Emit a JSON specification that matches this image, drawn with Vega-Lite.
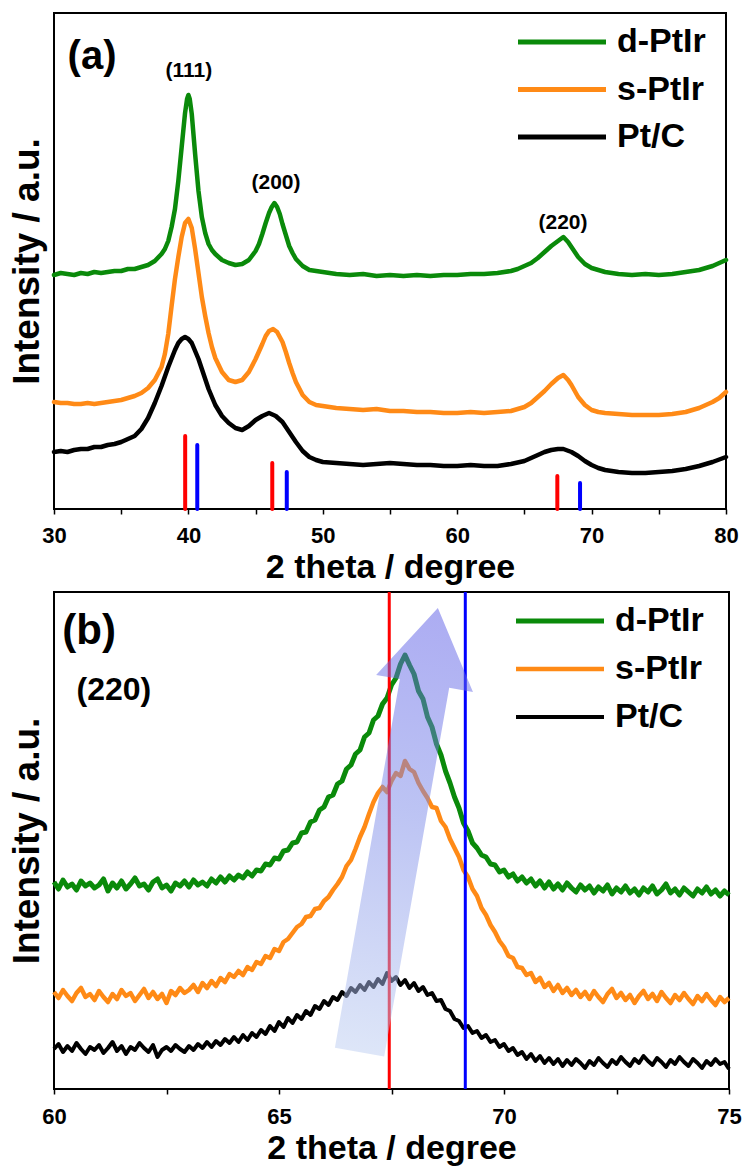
{
"$schema": "https://vega.github.io/schema/vega-lite/v6.json",
"background": "white",
"padding": {"left": 7, "top": 12, "right": 2, "bottom": 0},
"spacing": 4,
"config": {
  "font": "Liberation Sans",
  "view": {"stroke": "#000", "strokeWidth": 2},
  "axis": {"grid": false, "domain": false, "tickColor": "#000", "tickWidth": 1.5, "tickSize": 5, "labelFlush": false,
           "labelFont": "Liberation Sans", "labelFontWeight": "bold", "labelFontSize": 22, "labelColor": "#000", "labelOverlap": false,
           "titleFont": "Liberation Sans", "titleFontWeight": "bold", "titleColor": "#000"}
},
"resolve": {"scale": {"color": "independent", "strokeWidth": "independent", "x": "independent", "y": "independent"}, "legend": {"color": "independent"}},
"datasets": {
  "sticks": [
    {"m": "Pt", "x": 39.76, "h": 73}, {"m": "Ir", "x": 40.66, "h": 64},
    {"m": "Pt", "x": 46.24, "h": 46}, {"m": "Ir", "x": 47.32, "h": 37},
    {"m": "Pt", "x": 67.45, "h": 33}, {"m": "Ir", "x": 69.14, "h": 26}
  ],
  "ann": [
    {"p": "a", "k": "big", "t": "(a)", "x": 32.83, "y": 452},
    {"p": "a", "k": "small", "t": "(111)", "x": 40.04, "y": 438},
    {"p": "a", "k": "small", "t": "(200)", "x": 46.52, "y": 326},
    {"p": "a", "k": "small", "t": "(220)", "x": 67.87, "y": 286},
    {"p": "b", "k": "big", "t": "(b)", "x": 60.78, "y": 458},
    {"p": "b", "k": "small", "t": "(220)", "x": 61.33, "y": 399}
  ],
  "arrow": [{"x": 67.66, "y": 259}],
  "a": [
{"s":"d-PtIr","x":30,"y":234},{"s":"d-PtIr","x":30.5,"y":236},{"s":"d-PtIr","x":31,"y":235},{"s":"d-PtIr","x":31.5,"y":234},{"s":"d-PtIr","x":32,"y":236},{"s":"d-PtIr","x":32.5,"y":235},{"s":"d-PtIr","x":33,"y":237},{"s":"d-PtIr","x":33.5,"y":236},{"s":"d-PtIr","x":34,"y":237},{"s":"d-PtIr","x":34.5,"y":238},{"s":"d-PtIr","x":35,"y":238},{"s":"d-PtIr","x":35.5,"y":240},{"s":"d-PtIr","x":36,"y":240},{"s":"d-PtIr","x":36.5,"y":242},{"s":"d-PtIr","x":37,"y":244},{"s":"d-PtIr","x":37.5,"y":248},{"s":"d-PtIr","x":38,"y":255},{"s":"d-PtIr","x":38.25,"y":260},{"s":"d-PtIr","x":38.5,"y":268},{"s":"d-PtIr","x":38.75,"y":282},{"s":"d-PtIr","x":39,"y":300},{"s":"d-PtIr","x":39.25,"y":328},{"s":"d-PtIr","x":39.5,"y":362},{"s":"d-PtIr","x":39.75,"y":396},{"s":"d-PtIr","x":39.9,"y":410},{"s":"d-PtIr","x":40,"y":414},{"s":"d-PtIr","x":40.1,"y":410},{"s":"d-PtIr","x":40.25,"y":395},{"s":"d-PtIr","x":40.5,"y":355},{"s":"d-PtIr","x":40.75,"y":318},{"s":"d-PtIr","x":41,"y":292},{"s":"d-PtIr","x":41.25,"y":276},{"s":"d-PtIr","x":41.5,"y":265},{"s":"d-PtIr","x":41.75,"y":259},{"s":"d-PtIr","x":42,"y":255},{"s":"d-PtIr","x":42.5,"y":249},{"s":"d-PtIr","x":43,"y":246},{"s":"d-PtIr","x":43.5,"y":244},{"s":"d-PtIr","x":44,"y":245},{"s":"d-PtIr","x":44.5,"y":249},{"s":"d-PtIr","x":45,"y":258},{"s":"d-PtIr","x":45.25,"y":265},{"s":"d-PtIr","x":45.5,"y":275},{"s":"d-PtIr","x":45.75,"y":286},{"s":"d-PtIr","x":46,"y":296},{"s":"d-PtIr","x":46.2,"y":302},{"s":"d-PtIr","x":46.4,"y":306},{"s":"d-PtIr","x":46.6,"y":302},{"s":"d-PtIr","x":46.8,"y":295},{"s":"d-PtIr","x":47,"y":285},{"s":"d-PtIr","x":47.25,"y":274},{"s":"d-PtIr","x":47.5,"y":263},{"s":"d-PtIr","x":47.75,"y":256},{"s":"d-PtIr","x":48,"y":250},{"s":"d-PtIr","x":48.5,"y":243},{"s":"d-PtIr","x":49,"y":239},{"s":"d-PtIr","x":49.5,"y":238},{"s":"d-PtIr","x":50,"y":237},{"s":"d-PtIr","x":51,"y":235},{"s":"d-PtIr","x":52,"y":234},{"s":"d-PtIr","x":53,"y":235},{"s":"d-PtIr","x":54,"y":233},{"s":"d-PtIr","x":55,"y":234},{"s":"d-PtIr","x":56,"y":233},{"s":"d-PtIr","x":57,"y":234},{"s":"d-PtIr","x":58,"y":233},{"s":"d-PtIr","x":59,"y":234},{"s":"d-PtIr","x":60,"y":234},{"s":"d-PtIr","x":61,"y":235},{"s":"d-PtIr","x":62,"y":235},{"s":"d-PtIr","x":63,"y":236},{"s":"d-PtIr","x":64,"y":238},{"s":"d-PtIr","x":64.5,"y":240},{"s":"d-PtIr","x":65,"y":243},{"s":"d-PtIr","x":65.5,"y":246},{"s":"d-PtIr","x":66,"y":251},{"s":"d-PtIr","x":66.5,"y":257},{"s":"d-PtIr","x":67,"y":263},{"s":"d-PtIr","x":67.5,"y":268},{"s":"d-PtIr","x":67.9,"y":272},{"s":"d-PtIr","x":68.25,"y":267},{"s":"d-PtIr","x":68.5,"y":262},{"s":"d-PtIr","x":68.75,"y":257},{"s":"d-PtIr","x":69,"y":252},{"s":"d-PtIr","x":69.5,"y":245},{"s":"d-PtIr","x":70,"y":241},{"s":"d-PtIr","x":70.5,"y":239},{"s":"d-PtIr","x":71,"y":237},{"s":"d-PtIr","x":72,"y":235},{"s":"d-PtIr","x":73,"y":234},{"s":"d-PtIr","x":74,"y":235},{"s":"d-PtIr","x":75,"y":234},{"s":"d-PtIr","x":76,"y":235},{"s":"d-PtIr","x":77,"y":237},{"s":"d-PtIr","x":78,"y":239},{"s":"d-PtIr","x":78.5,"y":241},{"s":"d-PtIr","x":79,"y":243},{"s":"d-PtIr","x":79.5,"y":246},{"s":"d-PtIr","x":80,"y":249},
{"s":"s-PtIr","x":30,"y":107},{"s":"s-PtIr","x":30.5,"y":106},{"s":"s-PtIr","x":31,"y":106},{"s":"s-PtIr","x":31.5,"y":105},{"s":"s-PtIr","x":32,"y":105},{"s":"s-PtIr","x":32.5,"y":106},{"s":"s-PtIr","x":33,"y":105},{"s":"s-PtIr","x":33.5,"y":106},{"s":"s-PtIr","x":34,"y":107},{"s":"s-PtIr","x":34.5,"y":108},{"s":"s-PtIr","x":35,"y":109},{"s":"s-PtIr","x":35.5,"y":111},{"s":"s-PtIr","x":36,"y":113},{"s":"s-PtIr","x":36.5,"y":116},{"s":"s-PtIr","x":37,"y":121},{"s":"s-PtIr","x":37.5,"y":129},{"s":"s-PtIr","x":38,"y":142},{"s":"s-PtIr","x":38.25,"y":155},{"s":"s-PtIr","x":38.5,"y":175},{"s":"s-PtIr","x":38.75,"y":203},{"s":"s-PtIr","x":39,"y":230},{"s":"s-PtIr","x":39.25,"y":252},{"s":"s-PtIr","x":39.5,"y":272},{"s":"s-PtIr","x":39.75,"y":286},{"s":"s-PtIr","x":40,"y":290},{"s":"s-PtIr","x":40.25,"y":281},{"s":"s-PtIr","x":40.5,"y":260},{"s":"s-PtIr","x":40.75,"y":236},{"s":"s-PtIr","x":41,"y":212},{"s":"s-PtIr","x":41.25,"y":193},{"s":"s-PtIr","x":41.5,"y":176},{"s":"s-PtIr","x":41.75,"y":162},{"s":"s-PtIr","x":42,"y":151},{"s":"s-PtIr","x":42.5,"y":137},{"s":"s-PtIr","x":43,"y":129},{"s":"s-PtIr","x":43.5,"y":127},{"s":"s-PtIr","x":44,"y":129},{"s":"s-PtIr","x":44.5,"y":137},{"s":"s-PtIr","x":45,"y":150},{"s":"s-PtIr","x":45.5,"y":165},{"s":"s-PtIr","x":45.75,"y":173},{"s":"s-PtIr","x":46,"y":178},{"s":"s-PtIr","x":46.3,"y":180},{"s":"s-PtIr","x":46.6,"y":177},{"s":"s-PtIr","x":47,"y":167},{"s":"s-PtIr","x":47.25,"y":157},{"s":"s-PtIr","x":47.5,"y":146},{"s":"s-PtIr","x":47.75,"y":136},{"s":"s-PtIr","x":48,"y":127},{"s":"s-PtIr","x":48.5,"y":114},{"s":"s-PtIr","x":49,"y":107},{"s":"s-PtIr","x":49.5,"y":104},{"s":"s-PtIr","x":50,"y":103},{"s":"s-PtIr","x":51,"y":101},{"s":"s-PtIr","x":52,"y":100},{"s":"s-PtIr","x":53,"y":99},{"s":"s-PtIr","x":54,"y":100},{"s":"s-PtIr","x":55,"y":98},{"s":"s-PtIr","x":56,"y":98},{"s":"s-PtIr","x":57,"y":97},{"s":"s-PtIr","x":58,"y":97},{"s":"s-PtIr","x":59,"y":96},{"s":"s-PtIr","x":60,"y":96},{"s":"s-PtIr","x":61,"y":97},{"s":"s-PtIr","x":62,"y":96},{"s":"s-PtIr","x":63,"y":97},{"s":"s-PtIr","x":64,"y":98},{"s":"s-PtIr","x":64.5,"y":100},{"s":"s-PtIr","x":65,"y":102},{"s":"s-PtIr","x":65.5,"y":106},{"s":"s-PtIr","x":66,"y":112},{"s":"s-PtIr","x":66.5,"y":118},{"s":"s-PtIr","x":67,"y":125},{"s":"s-PtIr","x":67.5,"y":131},{"s":"s-PtIr","x":67.9,"y":134},{"s":"s-PtIr","x":68.25,"y":129},{"s":"s-PtIr","x":68.5,"y":124},{"s":"s-PtIr","x":68.75,"y":118},{"s":"s-PtIr","x":69,"y":112},{"s":"s-PtIr","x":69.5,"y":104},{"s":"s-PtIr","x":70,"y":99},{"s":"s-PtIr","x":70.5,"y":97},{"s":"s-PtIr","x":71,"y":96},{"s":"s-PtIr","x":72,"y":95},{"s":"s-PtIr","x":73,"y":94},{"s":"s-PtIr","x":74,"y":94},{"s":"s-PtIr","x":75,"y":94},{"s":"s-PtIr","x":76,"y":95},{"s":"s-PtIr","x":77,"y":97},{"s":"s-PtIr","x":77.5,"y":99},{"s":"s-PtIr","x":78,"y":101},{"s":"s-PtIr","x":78.5,"y":104},{"s":"s-PtIr","x":79,"y":107},{"s":"s-PtIr","x":79.5,"y":111},{"s":"s-PtIr","x":80,"y":117},
{"s":"Pt/C","x":30,"y":57},{"s":"Pt/C","x":30.5,"y":58},{"s":"Pt/C","x":31,"y":57},{"s":"Pt/C","x":31.5,"y":59},{"s":"Pt/C","x":32,"y":60},{"s":"Pt/C","x":32.5,"y":60},{"s":"Pt/C","x":33,"y":62},{"s":"Pt/C","x":33.5,"y":62},{"s":"Pt/C","x":34,"y":64},{"s":"Pt/C","x":34.5,"y":65},{"s":"Pt/C","x":35,"y":67},{"s":"Pt/C","x":35.5,"y":70},{"s":"Pt/C","x":36,"y":73},{"s":"Pt/C","x":36.5,"y":80},{"s":"Pt/C","x":37,"y":91},{"s":"Pt/C","x":37.5,"y":106},{"s":"Pt/C","x":38,"y":123},{"s":"Pt/C","x":38.5,"y":142},{"s":"Pt/C","x":39,"y":159},{"s":"Pt/C","x":39.25,"y":166},{"s":"Pt/C","x":39.5,"y":170},{"s":"Pt/C","x":39.75,"y":172},{"s":"Pt/C","x":40,"y":170},{"s":"Pt/C","x":40.25,"y":166},{"s":"Pt/C","x":40.5,"y":158},{"s":"Pt/C","x":40.75,"y":150},{"s":"Pt/C","x":41,"y":140},{"s":"Pt/C","x":41.5,"y":120},{"s":"Pt/C","x":42,"y":104},{"s":"Pt/C","x":42.5,"y":93},{"s":"Pt/C","x":43,"y":86},{"s":"Pt/C","x":43.5,"y":81},{"s":"Pt/C","x":44,"y":79},{"s":"Pt/C","x":44.5,"y":83},{"s":"Pt/C","x":45,"y":89},{"s":"Pt/C","x":45.5,"y":93},{"s":"Pt/C","x":46,"y":96},{"s":"Pt/C","x":46.5,"y":93},{"s":"Pt/C","x":47,"y":87},{"s":"Pt/C","x":47.5,"y":77},{"s":"Pt/C","x":48,"y":67},{"s":"Pt/C","x":48.5,"y":58},{"s":"Pt/C","x":49,"y":52},{"s":"Pt/C","x":49.5,"y":49},{"s":"Pt/C","x":50,"y":47},{"s":"Pt/C","x":51,"y":46},{"s":"Pt/C","x":52,"y":45},{"s":"Pt/C","x":53,"y":44},{"s":"Pt/C","x":54,"y":45},{"s":"Pt/C","x":55,"y":46},{"s":"Pt/C","x":56,"y":45},{"s":"Pt/C","x":57,"y":44},{"s":"Pt/C","x":58,"y":44},{"s":"Pt/C","x":59,"y":43},{"s":"Pt/C","x":60,"y":43},{"s":"Pt/C","x":61,"y":44},{"s":"Pt/C","x":62,"y":43},{"s":"Pt/C","x":63,"y":43},{"s":"Pt/C","x":64,"y":45},{"s":"Pt/C","x":65,"y":48},{"s":"Pt/C","x":65.5,"y":51},{"s":"Pt/C","x":66,"y":54},{"s":"Pt/C","x":66.5,"y":57},{"s":"Pt/C","x":67,"y":59},{"s":"Pt/C","x":67.5,"y":60},{"s":"Pt/C","x":67.9,"y":60},{"s":"Pt/C","x":68.5,"y":57},{"s":"Pt/C","x":69,"y":53},{"s":"Pt/C","x":69.5,"y":48},{"s":"Pt/C","x":70,"y":44},{"s":"Pt/C","x":70.5,"y":41},{"s":"Pt/C","x":71,"y":39},{"s":"Pt/C","x":72,"y":37},{"s":"Pt/C","x":73,"y":36},{"s":"Pt/C","x":74,"y":36},{"s":"Pt/C","x":75,"y":37},{"s":"Pt/C","x":76,"y":38},{"s":"Pt/C","x":77,"y":40},{"s":"Pt/C","x":78,"y":43},{"s":"Pt/C","x":79,"y":47},{"s":"Pt/C","x":80,"y":52}
  ],
  "b": [
{"s":"d-PtIr","x":60.0,"y":207},{"s":"d-PtIr","x":60.1,"y":200},{"s":"d-PtIr","x":60.2,"y":209},{"s":"d-PtIr","x":60.3,"y":202},{"s":"d-PtIr","x":60.4,"y":205},{"s":"d-PtIr","x":60.5,"y":199},{"s":"d-PtIr","x":60.6,"y":208},{"s":"d-PtIr","x":60.7,"y":203},{"s":"d-PtIr","x":60.8,"y":206},{"s":"d-PtIr","x":60.9,"y":201},
{"s":"d-PtIr","x":61.0,"y":204},{"s":"d-PtIr","x":61.1,"y":210},{"s":"d-PtIr","x":61.2,"y":198},{"s":"d-PtIr","x":61.3,"y":206},{"s":"d-PtIr","x":61.4,"y":201},{"s":"d-PtIr","x":61.5,"y":208},{"s":"d-PtIr","x":61.6,"y":200},{"s":"d-PtIr","x":61.7,"y":205},{"s":"d-PtIr","x":61.8,"y":211},{"s":"d-PtIr","x":61.9,"y":203},
{"s":"d-PtIr","x":62.0,"y":205},{"s":"d-PtIr","x":62.1,"y":199},{"s":"d-PtIr","x":62.2,"y":207},{"s":"d-PtIr","x":62.3,"y":210},{"s":"d-PtIr","x":62.4,"y":201},{"s":"d-PtIr","x":62.5,"y":204},{"s":"d-PtIr","x":62.6,"y":198},{"s":"d-PtIr","x":62.7,"y":206},{"s":"d-PtIr","x":62.8,"y":203},{"s":"d-PtIr","x":62.9,"y":208},
{"s":"d-PtIr","x":63.0,"y":202},{"s":"d-PtIr","x":63.1,"y":209},{"s":"d-PtIr","x":63.2,"y":204},{"s":"d-PtIr","x":63.3,"y":207},{"s":"d-PtIr","x":63.4,"y":203},{"s":"d-PtIr","x":63.5,"y":210},{"s":"d-PtIr","x":63.6,"y":206},{"s":"d-PtIr","x":63.7,"y":212},{"s":"d-PtIr","x":63.8,"y":207},{"s":"d-PtIr","x":63.9,"y":213},
{"s":"d-PtIr","x":64.0,"y":209},{"s":"d-PtIr","x":64.1,"y":214},{"s":"d-PtIr","x":64.2,"y":211},{"s":"d-PtIr","x":64.3,"y":217},{"s":"d-PtIr","x":64.4,"y":213},{"s":"d-PtIr","x":64.5,"y":219},{"s":"d-PtIr","x":64.6,"y":218},{"s":"d-PtIr","x":64.7,"y":225},{"s":"d-PtIr","x":64.8,"y":224},{"s":"d-PtIr","x":64.9,"y":231},
{"s":"d-PtIr","x":65.0,"y":230},{"s":"d-PtIr","x":65.1,"y":238},{"s":"d-PtIr","x":65.2,"y":239},{"s":"d-PtIr","x":65.3,"y":246},{"s":"d-PtIr","x":65.4,"y":247},{"s":"d-PtIr","x":65.5,"y":256},{"s":"d-PtIr","x":65.6,"y":257},{"s":"d-PtIr","x":65.7,"y":267},{"s":"d-PtIr","x":65.8,"y":269},{"s":"d-PtIr","x":65.9,"y":279},
{"s":"d-PtIr","x":66.0,"y":282},{"s":"d-PtIr","x":66.1,"y":292},{"s":"d-PtIr","x":66.2,"y":294},{"s":"d-PtIr","x":66.3,"y":305},{"s":"d-PtIr","x":66.4,"y":308},{"s":"d-PtIr","x":66.5,"y":320},{"s":"d-PtIr","x":66.6,"y":324},{"s":"d-PtIr","x":66.7,"y":335},{"s":"d-PtIr","x":66.8,"y":339},{"s":"d-PtIr","x":66.9,"y":352},
{"s":"d-PtIr","x":67.0,"y":356},{"s":"d-PtIr","x":67.1,"y":369},{"s":"d-PtIr","x":67.2,"y":373},{"s":"d-PtIr","x":67.3,"y":385},{"s":"d-PtIr","x":67.4,"y":391},{"s":"d-PtIr","x":67.5,"y":404},{"s":"d-PtIr","x":67.6,"y":411},{"s":"d-PtIr","x":67.7,"y":425},{"s":"d-PtIr","x":67.8,"y":434},{"s":"d-PtIr","x":67.9,"y":424},
{"s":"d-PtIr","x":68.0,"y":415},{"s":"d-PtIr","x":68.1,"y":398},{"s":"d-PtIr","x":68.2,"y":390},{"s":"d-PtIr","x":68.3,"y":372},{"s":"d-PtIr","x":68.4,"y":362},{"s":"d-PtIr","x":68.5,"y":345},{"s":"d-PtIr","x":68.6,"y":334},{"s":"d-PtIr","x":68.7,"y":318},{"s":"d-PtIr","x":68.8,"y":306},{"s":"d-PtIr","x":68.9,"y":292},
{"s":"d-PtIr","x":69.0,"y":281},{"s":"d-PtIr","x":69.1,"y":266},{"s":"d-PtIr","x":69.2,"y":258},{"s":"d-PtIr","x":69.3,"y":246},{"s":"d-PtIr","x":69.4,"y":241},{"s":"d-PtIr","x":69.5,"y":234},{"s":"d-PtIr","x":69.6,"y":232},{"s":"d-PtIr","x":69.7,"y":225},{"s":"d-PtIr","x":69.8,"y":224},{"s":"d-PtIr","x":69.9,"y":217},
{"s":"d-PtIr","x":70.0,"y":219},{"s":"d-PtIr","x":70.1,"y":212},{"s":"d-PtIr","x":70.2,"y":215},{"s":"d-PtIr","x":70.3,"y":208},{"s":"d-PtIr","x":70.4,"y":212},{"s":"d-PtIr","x":70.5,"y":206},{"s":"d-PtIr","x":70.6,"y":210},{"s":"d-PtIr","x":70.7,"y":203},{"s":"d-PtIr","x":70.8,"y":208},{"s":"d-PtIr","x":70.9,"y":201},
{"s":"d-PtIr","x":71.0,"y":207},{"s":"d-PtIr","x":71.1,"y":200},{"s":"d-PtIr","x":71.2,"y":205},{"s":"d-PtIr","x":71.3,"y":199},{"s":"d-PtIr","x":71.4,"y":206},{"s":"d-PtIr","x":71.5,"y":201},{"s":"d-PtIr","x":71.6,"y":197},{"s":"d-PtIr","x":71.7,"y":204},{"s":"d-PtIr","x":71.8,"y":199},{"s":"d-PtIr","x":71.9,"y":203},
{"s":"d-PtIr","x":72.0,"y":196},{"s":"d-PtIr","x":72.1,"y":202},{"s":"d-PtIr","x":72.2,"y":198},{"s":"d-PtIr","x":72.3,"y":204},{"s":"d-PtIr","x":72.4,"y":195},{"s":"d-PtIr","x":72.5,"y":201},{"s":"d-PtIr","x":72.6,"y":197},{"s":"d-PtIr","x":72.7,"y":203},{"s":"d-PtIr","x":72.8,"y":196},{"s":"d-PtIr","x":72.9,"y":200},
{"s":"d-PtIr","x":73.0,"y":194},{"s":"d-PtIr","x":73.1,"y":201},{"s":"d-PtIr","x":73.2,"y":197},{"s":"d-PtIr","x":73.3,"y":203},{"s":"d-PtIr","x":73.4,"y":195},{"s":"d-PtIr","x":73.5,"y":199},{"s":"d-PtIr","x":73.6,"y":205},{"s":"d-PtIr","x":73.7,"y":196},{"s":"d-PtIr","x":73.8,"y":200},{"s":"d-PtIr","x":73.9,"y":194},
{"s":"d-PtIr","x":74.0,"y":201},{"s":"d-PtIr","x":74.1,"y":197},{"s":"d-PtIr","x":74.2,"y":193},{"s":"d-PtIr","x":74.3,"y":200},{"s":"d-PtIr","x":74.4,"y":196},{"s":"d-PtIr","x":74.5,"y":202},{"s":"d-PtIr","x":74.6,"y":195},{"s":"d-PtIr","x":74.7,"y":199},{"s":"d-PtIr","x":74.8,"y":193},{"s":"d-PtIr","x":74.9,"y":198},{"s":"d-PtIr","x":75.0,"y":194},
{"s":"s-PtIr","x":60.0,"y":97},{"s":"s-PtIr","x":60.1,"y":91},{"s":"s-PtIr","x":60.2,"y":99},{"s":"s-PtIr","x":60.3,"y":93},{"s":"s-PtIr","x":60.4,"y":88},{"s":"s-PtIr","x":60.5,"y":96},{"s":"s-PtIr","x":60.6,"y":101},{"s":"s-PtIr","x":60.7,"y":92},{"s":"s-PtIr","x":60.8,"y":95},{"s":"s-PtIr","x":60.9,"y":89},
{"s":"s-PtIr","x":61.0,"y":98},{"s":"s-PtIr","x":61.1,"y":92},{"s":"s-PtIr","x":61.2,"y":87},{"s":"s-PtIr","x":61.3,"y":95},{"s":"s-PtIr","x":61.4,"y":90},{"s":"s-PtIr","x":61.5,"y":99},{"s":"s-PtIr","x":61.6,"y":93},{"s":"s-PtIr","x":61.7,"y":96},{"s":"s-PtIr","x":61.8,"y":88},{"s":"s-PtIr","x":61.9,"y":94},
{"s":"s-PtIr","x":62.0,"y":100},{"s":"s-PtIr","x":62.1,"y":91},{"s":"s-PtIr","x":62.2,"y":97},{"s":"s-PtIr","x":62.3,"y":90},{"s":"s-PtIr","x":62.4,"y":95},{"s":"s-PtIr","x":62.5,"y":86},{"s":"s-PtIr","x":62.6,"y":98},{"s":"s-PtIr","x":62.7,"y":94},{"s":"s-PtIr","x":62.8,"y":101},{"s":"s-PtIr","x":62.9,"y":96},
{"s":"s-PtIr","x":63.0,"y":99},{"s":"s-PtIr","x":63.1,"y":104},{"s":"s-PtIr","x":63.2,"y":97},{"s":"s-PtIr","x":63.3,"y":106},{"s":"s-PtIr","x":63.4,"y":101},{"s":"s-PtIr","x":63.5,"y":108},{"s":"s-PtIr","x":63.6,"y":103},{"s":"s-PtIr","x":63.7,"y":111},{"s":"s-PtIr","x":63.8,"y":107},{"s":"s-PtIr","x":63.9,"y":115},
{"s":"s-PtIr","x":64.0,"y":112},{"s":"s-PtIr","x":64.1,"y":118},{"s":"s-PtIr","x":64.2,"y":114},{"s":"s-PtIr","x":64.3,"y":122},{"s":"s-PtIr","x":64.4,"y":119},{"s":"s-PtIr","x":64.5,"y":127},{"s":"s-PtIr","x":64.6,"y":125},{"s":"s-PtIr","x":64.7,"y":133},{"s":"s-PtIr","x":64.8,"y":131},{"s":"s-PtIr","x":64.9,"y":140},
{"s":"s-PtIr","x":65.0,"y":138},{"s":"s-PtIr","x":65.1,"y":147},{"s":"s-PtIr","x":65.2,"y":150},{"s":"s-PtIr","x":65.3,"y":156},{"s":"s-PtIr","x":65.4,"y":162},{"s":"s-PtIr","x":65.5,"y":165},{"s":"s-PtIr","x":65.6,"y":172},{"s":"s-PtIr","x":65.7,"y":173},{"s":"s-PtIr","x":65.8,"y":180},{"s":"s-PtIr","x":65.9,"y":181},
{"s":"s-PtIr","x":66.0,"y":188},{"s":"s-PtIr","x":66.1,"y":192},{"s":"s-PtIr","x":66.2,"y":199},{"s":"s-PtIr","x":66.3,"y":205},{"s":"s-PtIr","x":66.4,"y":212},{"s":"s-PtIr","x":66.5,"y":223},{"s":"s-PtIr","x":66.6,"y":229},{"s":"s-PtIr","x":66.7,"y":240},{"s":"s-PtIr","x":66.8,"y":252},{"s":"s-PtIr","x":66.9,"y":262},
{"s":"s-PtIr","x":67.0,"y":275},{"s":"s-PtIr","x":67.1,"y":287},{"s":"s-PtIr","x":67.2,"y":296},{"s":"s-PtIr","x":67.3,"y":302},{"s":"s-PtIr","x":67.4,"y":297},{"s":"s-PtIr","x":67.5,"y":308},{"s":"s-PtIr","x":67.6,"y":316},{"s":"s-PtIr","x":67.7,"y":313},{"s":"s-PtIr","x":67.8,"y":328},{"s":"s-PtIr","x":67.9,"y":320},
{"s":"s-PtIr","x":68.0,"y":317},{"s":"s-PtIr","x":68.1,"y":306},{"s":"s-PtIr","x":68.2,"y":298},{"s":"s-PtIr","x":68.3,"y":291},{"s":"s-PtIr","x":68.4,"y":282},{"s":"s-PtIr","x":68.5,"y":281},{"s":"s-PtIr","x":68.6,"y":268},{"s":"s-PtIr","x":68.7,"y":262},{"s":"s-PtIr","x":68.8,"y":250},{"s":"s-PtIr","x":68.9,"y":241},
{"s":"s-PtIr","x":69.0,"y":232},{"s":"s-PtIr","x":69.1,"y":219},{"s":"s-PtIr","x":69.2,"y":212},{"s":"s-PtIr","x":69.3,"y":200},{"s":"s-PtIr","x":69.4,"y":193},{"s":"s-PtIr","x":69.5,"y":181},{"s":"s-PtIr","x":69.6,"y":174},{"s":"s-PtIr","x":69.7,"y":164},{"s":"s-PtIr","x":69.8,"y":157},{"s":"s-PtIr","x":69.9,"y":148},
{"s":"s-PtIr","x":70.0,"y":142},{"s":"s-PtIr","x":70.1,"y":133},{"s":"s-PtIr","x":70.2,"y":131},{"s":"s-PtIr","x":70.3,"y":122},{"s":"s-PtIr","x":70.4,"y":121},{"s":"s-PtIr","x":70.5,"y":114},{"s":"s-PtIr","x":70.6,"y":116},{"s":"s-PtIr","x":70.7,"y":107},{"s":"s-PtIr","x":70.8,"y":111},{"s":"s-PtIr","x":70.9,"y":102},
{"s":"s-PtIr","x":71.0,"y":106},{"s":"s-PtIr","x":71.1,"y":98},{"s":"s-PtIr","x":71.2,"y":104},{"s":"s-PtIr","x":71.3,"y":96},{"s":"s-PtIr","x":71.4,"y":101},{"s":"s-PtIr","x":71.5,"y":94},{"s":"s-PtIr","x":71.6,"y":99},{"s":"s-PtIr","x":71.7,"y":92},{"s":"s-PtIr","x":71.8,"y":97},{"s":"s-PtIr","x":71.9,"y":90},
{"s":"s-PtIr","x":72.0,"y":98},{"s":"s-PtIr","x":72.1,"y":92},{"s":"s-PtIr","x":72.2,"y":87},{"s":"s-PtIr","x":72.3,"y":95},{"s":"s-PtIr","x":72.4,"y":100},{"s":"s-PtIr","x":72.5,"y":91},{"s":"s-PtIr","x":72.6,"y":96},{"s":"s-PtIr","x":72.7,"y":89},{"s":"s-PtIr","x":72.8,"y":94},{"s":"s-PtIr","x":72.9,"y":86},
{"s":"s-PtIr","x":73.0,"y":93},{"s":"s-PtIr","x":73.1,"y":98},{"s":"s-PtIr","x":73.2,"y":90},{"s":"s-PtIr","x":73.3,"y":95},{"s":"s-PtIr","x":73.4,"y":88},{"s":"s-PtIr","x":73.5,"y":97},{"s":"s-PtIr","x":73.6,"y":91},{"s":"s-PtIr","x":73.7,"y":86},{"s":"s-PtIr","x":73.8,"y":94},{"s":"s-PtIr","x":73.9,"y":89},
{"s":"s-PtIr","x":74.0,"y":96},{"s":"s-PtIr","x":74.1,"y":90},{"s":"s-PtIr","x":74.2,"y":85},{"s":"s-PtIr","x":74.3,"y":93},{"s":"s-PtIr","x":74.4,"y":88},{"s":"s-PtIr","x":74.5,"y":95},{"s":"s-PtIr","x":74.6,"y":89},{"s":"s-PtIr","x":74.7,"y":84},{"s":"s-PtIr","x":74.8,"y":92},{"s":"s-PtIr","x":74.9,"y":87},{"s":"s-PtIr","x":75.0,"y":91},
{"s":"Pt/C","x":60.0,"y":40},{"s":"Pt/C","x":60.1,"y":45},{"s":"Pt/C","x":60.2,"y":37},{"s":"Pt/C","x":60.3,"y":43},{"s":"Pt/C","x":60.4,"y":38},{"s":"Pt/C","x":60.5,"y":46},{"s":"Pt/C","x":60.6,"y":40},{"s":"Pt/C","x":60.7,"y":35},{"s":"Pt/C","x":60.8,"y":42},{"s":"Pt/C","x":60.9,"y":39},
{"s":"Pt/C","x":61.0,"y":44},{"s":"Pt/C","x":61.1,"y":36},{"s":"Pt/C","x":61.2,"y":41},{"s":"Pt/C","x":61.3,"y":47},{"s":"Pt/C","x":61.4,"y":38},{"s":"Pt/C","x":61.5,"y":43},{"s":"Pt/C","x":61.6,"y":35},{"s":"Pt/C","x":61.7,"y":42},{"s":"Pt/C","x":61.8,"y":39},{"s":"Pt/C","x":61.9,"y":46},
{"s":"Pt/C","x":62.0,"y":41},{"s":"Pt/C","x":62.1,"y":37},{"s":"Pt/C","x":62.2,"y":44},{"s":"Pt/C","x":62.3,"y":32},{"s":"Pt/C","x":62.4,"y":39},{"s":"Pt/C","x":62.5,"y":42},{"s":"Pt/C","x":62.6,"y":38},{"s":"Pt/C","x":62.7,"y":44},{"s":"Pt/C","x":62.8,"y":40},{"s":"Pt/C","x":62.9,"y":37},
{"s":"Pt/C","x":63.0,"y":43},{"s":"Pt/C","x":63.1,"y":39},{"s":"Pt/C","x":63.2,"y":45},{"s":"Pt/C","x":63.3,"y":41},{"s":"Pt/C","x":63.4,"y":47},{"s":"Pt/C","x":63.5,"y":42},{"s":"Pt/C","x":63.6,"y":48},{"s":"Pt/C","x":63.7,"y":44},{"s":"Pt/C","x":63.8,"y":50},{"s":"Pt/C","x":63.9,"y":46},
{"s":"Pt/C","x":64.0,"y":52},{"s":"Pt/C","x":64.1,"y":47},{"s":"Pt/C","x":64.2,"y":54},{"s":"Pt/C","x":64.3,"y":49},{"s":"Pt/C","x":64.4,"y":56},{"s":"Pt/C","x":64.5,"y":52},{"s":"Pt/C","x":64.6,"y":59},{"s":"Pt/C","x":64.7,"y":55},{"s":"Pt/C","x":64.8,"y":63},{"s":"Pt/C","x":64.9,"y":58},
{"s":"Pt/C","x":65.0,"y":67},{"s":"Pt/C","x":65.1,"y":62},{"s":"Pt/C","x":65.2,"y":71},{"s":"Pt/C","x":65.3,"y":66},{"s":"Pt/C","x":65.4,"y":74},{"s":"Pt/C","x":65.5,"y":70},{"s":"Pt/C","x":65.6,"y":78},{"s":"Pt/C","x":65.7,"y":74},{"s":"Pt/C","x":65.8,"y":83},{"s":"Pt/C","x":65.9,"y":80},
{"s":"Pt/C","x":66.0,"y":88},{"s":"Pt/C","x":66.1,"y":84},{"s":"Pt/C","x":66.2,"y":92},{"s":"Pt/C","x":66.3,"y":89},{"s":"Pt/C","x":66.4,"y":97},{"s":"Pt/C","x":66.5,"y":93},{"s":"Pt/C","x":66.6,"y":101},{"s":"Pt/C","x":66.7,"y":97},{"s":"Pt/C","x":66.8,"y":104},{"s":"Pt/C","x":66.9,"y":99},
{"s":"Pt/C","x":67.0,"y":107},{"s":"Pt/C","x":67.1,"y":102},{"s":"Pt/C","x":67.2,"y":110},{"s":"Pt/C","x":67.3,"y":105},{"s":"Pt/C","x":67.4,"y":116},{"s":"Pt/C","x":67.5,"y":108},{"s":"Pt/C","x":67.6,"y":112},{"s":"Pt/C","x":67.7,"y":104},{"s":"Pt/C","x":67.8,"y":109},{"s":"Pt/C","x":67.9,"y":101},
{"s":"Pt/C","x":68.0,"y":106},{"s":"Pt/C","x":68.1,"y":98},{"s":"Pt/C","x":68.2,"y":102},{"s":"Pt/C","x":68.3,"y":94},{"s":"Pt/C","x":68.4,"y":96},{"s":"Pt/C","x":68.5,"y":88},{"s":"Pt/C","x":68.6,"y":89},{"s":"Pt/C","x":68.7,"y":80},{"s":"Pt/C","x":68.8,"y":78},{"s":"Pt/C","x":68.9,"y":70},
{"s":"Pt/C","x":69.0,"y":68},{"s":"Pt/C","x":69.1,"y":61},{"s":"Pt/C","x":69.2,"y":63},{"s":"Pt/C","x":69.3,"y":56},{"s":"Pt/C","x":69.4,"y":58},{"s":"Pt/C","x":69.5,"y":51},{"s":"Pt/C","x":69.6,"y":54},{"s":"Pt/C","x":69.7,"y":47},{"s":"Pt/C","x":69.8,"y":49},{"s":"Pt/C","x":69.9,"y":42},
{"s":"Pt/C","x":70.0,"y":45},{"s":"Pt/C","x":70.1,"y":38},{"s":"Pt/C","x":70.2,"y":41},{"s":"Pt/C","x":70.3,"y":34},{"s":"Pt/C","x":70.4,"y":37},{"s":"Pt/C","x":70.5,"y":30},{"s":"Pt/C","x":70.6,"y":35},{"s":"Pt/C","x":70.7,"y":28},{"s":"Pt/C","x":70.8,"y":33},{"s":"Pt/C","x":70.9,"y":26},
{"s":"Pt/C","x":71.0,"y":31},{"s":"Pt/C","x":71.1,"y":25},{"s":"Pt/C","x":71.2,"y":30},{"s":"Pt/C","x":71.3,"y":23},{"s":"Pt/C","x":71.4,"y":29},{"s":"Pt/C","x":71.5,"y":24},{"s":"Pt/C","x":71.6,"y":30},{"s":"Pt/C","x":71.7,"y":26},{"s":"Pt/C","x":71.8,"y":21},{"s":"Pt/C","x":71.9,"y":28},
{"s":"Pt/C","x":72.0,"y":24},{"s":"Pt/C","x":72.1,"y":31},{"s":"Pt/C","x":72.2,"y":26},{"s":"Pt/C","x":72.3,"y":22},{"s":"Pt/C","x":72.4,"y":29},{"s":"Pt/C","x":72.5,"y":25},{"s":"Pt/C","x":72.6,"y":32},{"s":"Pt/C","x":72.7,"y":27},{"s":"Pt/C","x":72.8,"y":23},{"s":"Pt/C","x":72.9,"y":30},
{"s":"Pt/C","x":73.0,"y":26},{"s":"Pt/C","x":73.1,"y":33},{"s":"Pt/C","x":73.2,"y":28},{"s":"Pt/C","x":73.3,"y":24},{"s":"Pt/C","x":73.4,"y":31},{"s":"Pt/C","x":73.5,"y":27},{"s":"Pt/C","x":73.6,"y":22},{"s":"Pt/C","x":73.7,"y":29},{"s":"Pt/C","x":73.8,"y":25},{"s":"Pt/C","x":73.9,"y":32},
{"s":"Pt/C","x":74.0,"y":27},{"s":"Pt/C","x":74.1,"y":23},{"s":"Pt/C","x":74.2,"y":30},{"s":"Pt/C","x":74.3,"y":26},{"s":"Pt/C","x":74.4,"y":21},{"s":"Pt/C","x":74.5,"y":28},{"s":"Pt/C","x":74.6,"y":24},{"s":"Pt/C","x":74.7,"y":30},{"s":"Pt/C","x":74.8,"y":25},{"s":"Pt/C","x":74.9,"y":27},{"s":"Pt/C","x":75.0,"y":20}
  ]
},
"vconcat": [
  {
    "width": 672, "height": 496,
    "layer": [
      {
        "data": {"name": "a"},
        "mark": {"type": "line", "strokeWidth": 4.5, "strokeJoin": "round", "strokeCap": "round"},
        "encoding": {
          "x": {"field": "x", "type": "quantitative",
                "scale": {"domain": [30, 80], "nice": false, "zero": false},
                "axis": {"values": [30, 35, 40, 45, 50, 55, 60, 65, 70, 75, 80],
                         "labelExpr": "datum.value % 10 === 0 ? datum.label : ''",
                         "title": "2 theta / degree", "titleFontSize": 34, "labelPadding": 11, "titlePadding": 4}},
          "y": {"field": "y", "type": "quantitative",
                "scale": {"domain": [0, 496], "nice": false, "zero": false},
                "axis": {"ticks": false, "labels": false, "title": "Intensity / a.u.", "titleFontSize": 37, "titlePadding": 8}},
          "color": {"field": "s", "type": "nominal",
                    "scale": {"domain": ["d-PtIr", "s-PtIr", "Pt/C"], "range": ["#0a8a0a", "#ff8a16", "#000000"]},
                    "legend": {"orient": "none", "legendX": 464, "legendY": 12, "title": null, "padding": 0,
                               "symbolType": "M-4,0H4", "symbolSize": 484, "symbolStrokeWidth": 5, "symbolOffset": 27,
                               "labelOffset": 38, "rowPadding": 13.5, "labelFontSize": 34, "labelFont": "Liberation Sans",
                               "labelFontWeight": "bold", "labelColor": "#000"}}
        }
      },
      {
        "data": {"name": "sticks"},
        "transform": [{"filter": "datum.m === 'Pt'"}],
        "mark": {"type": "rule", "color": "#ff0000", "strokeWidth": 4, "strokeCap": "round"},
        "encoding": {"x": {"field": "x", "type": "quantitative"}, "y": {"field": "h", "type": "quantitative"}, "y2": {"datum": 0}}
      },
      {
        "data": {"name": "sticks"},
        "transform": [{"filter": "datum.m === 'Ir'"}],
        "mark": {"type": "rule", "color": "#0000ff", "strokeWidth": 4, "strokeCap": "round"},
        "encoding": {"x": {"field": "x", "type": "quantitative"}, "y": {"field": "h", "type": "quantitative"}, "y2": {"datum": 0}}
      },
      {
        "data": {"name": "ann"},
        "transform": [{"filter": "datum.p === 'a' && datum.k === 'big'"}],
        "mark": {"type": "text", "font": "Liberation Sans", "fontWeight": "bold", "fontSize": 40, "color": "#000", "baseline": "middle", "align": "center"},
        "encoding": {"x": {"field": "x", "type": "quantitative"}, "y": {"field": "y", "type": "quantitative"}, "text": {"field": "t", "type": "nominal"}}
      },
      {
        "data": {"name": "ann"},
        "transform": [{"filter": "datum.p === 'a' && datum.k === 'small'"}],
        "mark": {"type": "text", "font": "Liberation Sans", "fontWeight": "bold", "fontSize": 21, "color": "#000", "baseline": "middle", "align": "center"},
        "encoding": {"x": {"field": "x", "type": "quantitative"}, "y": {"field": "y", "type": "quantitative"}, "text": {"field": "t", "type": "nominal"}}
      }
    ]
  },
  {
    "width": 675, "height": 497,
    "layer": [
      {
        "data": {"name": "b"},
        "mark": {"type": "line", "strokeJoin": "round"},
        "encoding": {
          "x": {"field": "x", "type": "quantitative",
                "scale": {"domain": [60, 75], "nice": false, "zero": false},
                "axis": {"values": [60, 62.5, 65, 67.5, 70, 72.5, 75],
                         "labelExpr": "datum.value % 5 === 0 ? datum.label : ''",
                         "title": "2 theta / degree", "titleFontSize": 34, "labelPadding": 12, "titlePadding": 4}},
          "y": {"field": "y", "type": "quantitative",
                "scale": {"domain": [0, 497], "nice": false, "zero": false},
                "axis": {"ticks": false, "labels": false, "title": "Intensity / a.u.", "titleFontSize": 37, "titlePadding": 8}},
          "color": {"field": "s", "type": "nominal",
                    "scale": {"domain": ["d-PtIr", "s-PtIr", "Pt/C"], "range": ["#0a8a0a", "#ff8a16", "#000000"]},
                    "legend": {"orient": "none", "legendX": 462, "legendY": 12, "title": null, "padding": 0,
                               "symbolType": "M-4,0H4", "symbolSize": 484, "symbolStrokeWidth": 4, "symbolOffset": 27,
                               "labelOffset": 38, "rowPadding": 14, "labelFontSize": 34, "labelFont": "Liberation Sans",
                               "labelFontWeight": "bold", "labelColor": "#000"}},
          "strokeWidth": {"field": "s", "type": "nominal",
                          "scale": {"domain": ["d-PtIr", "s-PtIr", "Pt/C"], "range": [5, 4, 3]}, "legend": null}
        }
      },
      {
        "data": {"name": "sticks"},
        "transform": [{"filter": "datum.m === 'Pt' && datum.x > 60"}],
        "mark": {"type": "rule", "color": "#ff0000", "strokeWidth": 3},
        "encoding": {"x": {"field": "x", "type": "quantitative"}}
      },
      {
        "data": {"name": "sticks"},
        "transform": [{"filter": "datum.m === 'Ir' && datum.x > 60"}],
        "mark": {"type": "rule", "color": "#0000ff", "strokeWidth": 3},
        "encoding": {"x": {"field": "x", "type": "quantitative"}}
      },
      {
        "data": {"name": "arrow"},
        "mark": {"type": "point", "shape": "M0,-1L0.218,-0.66L0.111,-0.66L0.111,1L-0.111,1L-0.111,-0.66L-0.218,-0.66Z",
                 "size": 203401, "angle": 10, "filled": true, "strokeWidth": 0, "opacity": 1, "fillOpacity": 0.5,
                 "fill": {"gradient": "linear", "x1": 0, "y1": 0, "x2": 0, "y2": 1,
                          "stops": [{"offset": 0, "color": "#5a5ae6"}, {"offset": 0.45, "color": "#7a88e8"}, {"offset": 1, "color": "#bccdf1"}]}},
        "encoding": {"x": {"field": "x", "type": "quantitative"}, "y": {"field": "y", "type": "quantitative"}}
      },
      {
        "data": {"name": "ann"},
        "transform": [{"filter": "datum.p === 'b' && datum.k === 'big'"}],
        "mark": {"type": "text", "font": "Liberation Sans", "fontWeight": "bold", "fontSize": 42, "color": "#000", "baseline": "middle", "align": "center"},
        "encoding": {"x": {"field": "x", "type": "quantitative"}, "y": {"field": "y", "type": "quantitative"}, "text": {"field": "t", "type": "nominal"}}
      },
      {
        "data": {"name": "ann"},
        "transform": [{"filter": "datum.p === 'b' && datum.k === 'small'"}],
        "mark": {"type": "text", "font": "Liberation Sans", "fontWeight": "bold", "fontSize": 32, "color": "#000", "baseline": "middle", "align": "center"},
        "encoding": {"x": {"field": "x", "type": "quantitative"}, "y": {"field": "y", "type": "quantitative"}, "text": {"field": "t", "type": "nominal"}}
      }
    ]
  }
]
}
